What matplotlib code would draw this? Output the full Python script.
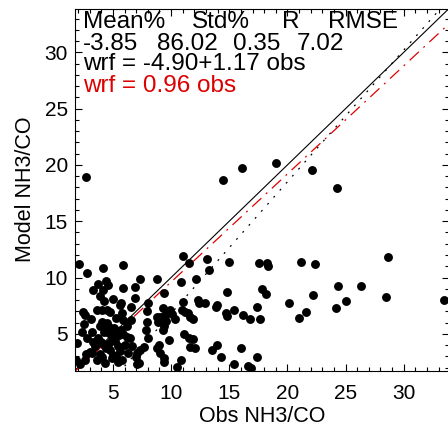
import numpy as np
import matplotlib
matplotlib.use('Agg')
import matplotlib.pyplot as plt
from matplotlib.ticker import MultipleLocator

plt.rcParams['font.family'] = ['Liberation Sans', 'DejaVu Sans']

obs = [
    2.69, 14.44, 16.07, 19.02, 22.09, 24.29,
    2.11, 2.75, 4.12, 5.89, 11.00, 11.54, 13.12, 13.24, 14.96, 17.59, 18.28, 18.31, 21.15, 22.38, 28.68,
    7.33, 8.82, 6.90, 5.89, 3.31, 3.74, 4.12, 4.38, 4.60, 10.85, 12.14, 24.33, 26.31, 33.47,
    14.78, 17.79, 18.16, 22.23, 28.48, 9.39, 6.90,
    25.04, 24.18, 20.14, 21.60, 21.03, 17.36, 17.65, 16.79, 16.21, 15.41, 14.72, 14.78, 13.86, 13.98,
    12.92, 12.34, 12.43, 11.05, 10.91, 11.20, 11.48, 11.63, 11.86, 9.88, 10.08, 10.30,
    11.11, 11.57, 11.91, 11.63, 12.06, 13.49, 13.92, 14.27, 15.41, 15.99, 16.64, 16.84, 17.41,
    10.48, 10.83, 9.42, 9.42, 9.05, 8.76, 8.94, 9.85, 9.33, 9.33, 9.48, 9.56, 9.39, 9.05, 8.76, 8.85,
    8.04, 7.96, 7.96, 7.84, 8.04, 7.67, 7.33, 7.10, 6.99, 7.27, 7.04, 6.56, 6.56, 6.18, 6.32, 5.46,
    5.61, 5.67, 5.76, 5.03, 4.47, 4.75, 4.04, 3.61, 2.40, 2.60, 4.04, 4.47, 4.69, 3.18, 2.32,
    1.89, 2.75, 3.03, 3.18, 2.60, 1.83, 3.61, 4.32, 4.90, 4.98, 4.75,
    3.70, 4.00, 4.20, 4.50, 4.70, 4.90, 5.10, 5.30, 5.50, 5.70, 5.90, 4.20, 4.40, 4.70, 5.20, 5.40,
    5.60, 5.30, 3.50, 3.30, 2.70, 3.90, 5.90, 6.20, 6.50, 6.00, 5.80, 2.20, 2.50, 3.10, 3.90, 5.30,
    6.60, 4.10, 3.85, 4.25,
]
wrf = [
    18.90, 18.63, 19.70, 20.20, 19.55, 17.97,
    11.20, 10.43, 10.82, 11.11, 11.91, 11.31, 11.62, 10.67, 11.38, 11.26, 11.26, 11.02, 11.38, 11.20, 11.79,
    9.84, 9.84, 9.18, 9.09, 8.89, 9.42, 8.89, 9.69, 9.33, 9.63, 9.87, 9.27, 9.27, 8.00,
    8.74, 8.95, 8.53, 8.45, 8.29, 8.60, 8.15,
    7.94, 7.26, 7.71, 6.96, 6.43, 7.41, 6.29, 6.29, 6.67, 7.11, 6.82, 6.61, 7.35, 7.56,
    7.76, 8.00, 7.71, 7.85, 7.11, 6.96, 6.82, 6.52, 6.29, 7.15, 6.75, 6.35,
    4.98, 4.60, 4.51, 3.85, 3.71, 3.56, 4.00, 2.91, 2.32, 3.71, 2.14, 1.94, 2.91,
    2.02, 2.67, 2.52, 2.82, 3.32, 3.71, 4.00, 4.42, 5.34, 7.26, 6.67, 6.16, 5.69, 6.52, 6.52, 6.08,
    7.71, 7.05, 6.08, 5.34, 4.60, 3.80, 3.56, 3.32, 2.91, 2.38, 2.32, 7.41, 6.22, 4.69, 3.32, 2.52,
    7.56, 7.71, 6.82, 8.06, 7.11, 6.96, 7.11, 7.11, 6.96, 6.67, 6.08, 5.93, 5.63, 5.19, 5.19,
    4.16, 4.60, 3.41, 3.27, 2.67, 2.67, 2.67, 2.38, 2.82, 3.12, 3.56,
    4.60, 4.30, 5.20, 5.40, 5.10, 4.80, 5.50, 5.20, 4.90, 5.30, 5.00, 4.00, 3.70, 4.20, 4.40, 3.90,
    3.50, 3.00, 3.90, 4.30, 3.20, 3.20, 6.20, 5.70, 4.60, 4.00, 2.70, 2.30, 5.90, 6.30, 5.70, 6.40,
    3.90, 2.90, 8.35, 7.90,
]

# statistics shown in the corner
stat_names = ['Mean%', 'Std%', 'R', 'RMSE']
stat_vals = [-3.85, 86.02, 0.35, 7.02]
fit_a, fit_b = -4.90, 1.17
slope0 = 0.96
lim = (1.74, 33.85)

fig = plt.figure(figsize=(4.48, 4.26), dpi=100)
ax = fig.add_axes([75/448, 1 - 370.5/426, 373.5/448, 361.5/426])

ax.plot(obs, wrf, 'o', color='black', ms=6.4, mew=0, zorder=3)

xx = np.array(lim)
ax.plot(xx, xx, color='black', lw=0.8, zorder=2)
ax.plot(xx, fit_a + fit_b*xx, color='black', lw=0.9, dashes=(1.5, 6), zorder=2)
ax.plot(xx, slope0*xx, color='#e00000', lw=0.9, dashes=(10, 5, 1.5, 5), zorder=2)

ax.set_xlim(lim)
ax.set_ylim(lim)
ax.xaxis.set_major_locator(MultipleLocator(5))
ax.yaxis.set_major_locator(MultipleLocator(5))
ax.xaxis.set_minor_locator(MultipleLocator(1))
ax.yaxis.set_minor_locator(MultipleLocator(1))
ax.tick_params(which='both', direction='in', top=True, right=True, width=0.8, colors='black')
ax.tick_params(which='major', length=5, labelsize=15)
ax.tick_params(axis='x', which='major', pad=10)
ax.tick_params(axis='y', which='major', pad=5)
ax.tick_params(which='minor', length=3)
for s in ax.spines.values():
    s.set_linewidth(0.8)

ax.set_xlabel('Obs NH3/CO', fontsize=15.5, labelpad=2)
ax.set_ylabel('Model NH3/CO', fontsize=15.5, labelpad=6)

# header text
fs = 17.5
hx = [83, 192, 282, 328]
vx = [83, 157, 233, 297]
for name, x in zip(stat_names, hx):
    fig.text(x/448, 1 - 22/426, name, fontsize=fs, va='center', ha='left')
for v, x in zip(stat_vals, vx):
    fig.text(x/448, 1 - 43.5/426, '%.2f' % v, fontsize=fs, va='center', ha='left')
fig.text(83/448, 1 - 64.5/426, 'wrf = %.2f+%.2f obs' % (fit_a, fit_b), fontsize=fs, va='center', ha='left')
fig.text(83/448, 1 - 86/426, 'wrf = %.2f obs' % slope0, fontsize=fs, va='center', ha='left', color='#dd0000')

fig.savefig('out.png', dpi=100)
